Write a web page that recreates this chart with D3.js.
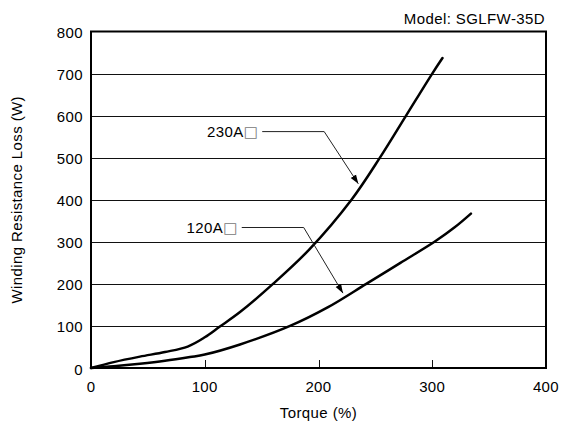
<!DOCTYPE html>
<html>
<head>
<meta charset="utf-8">
<script src="https://cdn.jsdelivr.net/npm/d3@7"></script>
<style>
  html, body { margin: 0; padding: 0; background: #fff; }
  svg { display: block; }
  text { font-family: "Liberation Sans", Arial, Helvetica, sans-serif; fill: #000; letter-spacing: 0.4px; }
</style>
</head>
<body>
<svg id="chart" width="563" height="427"></svg>
<script>
// ---- data ----
const xTicks = [0, 100, 200, 300, 400];
const yTicks = [0, 100, 200, 300, 400, 500, 600, 700, 800];

const torque230 = [0, 20, 43, 65, 85, 100, 113, 131, 160, 192, 229, 254, 277, 300, 309];
const loss230   = [0, 14, 27, 38, 51, 73, 98, 133, 200, 282, 400, 500, 600, 700, 737];

const torque120 = [0, 20, 43, 65, 87, 100, 131, 175, 208, 242, 272, 302, 320, 334];
const loss120   = [0, 4, 10, 17, 26, 32, 56, 100, 144, 200, 250, 300, 335, 367];

const seriesNames = ["230A", "120A"];
// label anchor (torque, loss), elbow torque, arrow target (torque, loss)
const labelAt   = [[147, 562], [129, 334]];
const elbowAt   = [205, 187];
const targetAt  = [[235, 438], [221.5, 178]];

const modelText = "Model: SGLFW-35D";
const xTitle = "Torque (%)";
const yTitle = "Winding Resistance Loss (W)";

// ---- layout ----
const svg = d3.select("#chart");
const x = d3.scaleLinear().domain([0, 400]).range([91, 546]);
const y = d3.scaleLinear().domain([0, 800]).range([368, 31.5]);

// arrow marker
svg.append("defs").append("marker")
  .attr("id", "arrow").attr("viewBox", "0 0 10 10")
  .attr("refX", 10).attr("refY", 5)
  .attr("markerWidth", 9).attr("markerHeight", 9)
  .attr("markerUnits", "userSpaceOnUse")
  .attr("orient", "auto")
  .append("path").attr("d", "M0,1.5 L10,5 L0,8.5 Z").attr("fill", "#000");

// gridlines
svg.append("g").selectAll("line")
  .data(yTicks.filter(d => d > 0 && d < 800))
  .join("line")
  .attr("x1", x(0)).attr("x2", x(400))
  .attr("y1", d => Math.round(y(d)) + 0.5).attr("y2", d => Math.round(y(d)) + 0.5)
  .attr("stroke", "#111").attr("stroke-width", 1);

// x inner ticks
svg.append("g").selectAll("line")
  .data(xTicks.filter(d => d > 0 && d < 400))
  .join("line")
  .attr("x1", d => Math.round(x(d)) + 0.5).attr("x2", d => Math.round(x(d)) + 0.5)
  .attr("y1", y(0)).attr("y2", y(0) - 8)
  .attr("stroke", "#111").attr("stroke-width", 1);

// frame
svg.append("rect")
  .attr("x", x(0)).attr("y", y(800))
  .attr("width", x(400) - x(0)).attr("height", y(0) - y(800))
  .attr("fill", "none").attr("stroke", "#000").attr("stroke-width", 2);

// axis tick labels
svg.append("g").selectAll("text")
  .data(xTicks).join("text")
  .attr("x", d => x(d)).attr("y", 392)
  .attr("text-anchor", "middle").attr("font-size", 15)
  .text(d => d);

svg.append("g").selectAll("text")
  .data(yTicks).join("text")
  .attr("x", 83).attr("y", d => y(d) + 6.5)
  .attr("text-anchor", "end").attr("font-size", 15)
  .text(d => d);

// titles
svg.append("text").attr("x", 545).attr("y", 24)
  .attr("text-anchor", "end").attr("font-size", 15).text(modelText);
svg.append("text").attr("x", (x(0) + x(400)) / 2).attr("y", 418)
  .attr("text-anchor", "middle").attr("font-size", 15).text(xTitle);
svg.append("text")
  .attr("transform", `translate(22,${(y(0) + y(800)) / 2}) rotate(-90)`)
  .attr("text-anchor", "middle").attr("font-size", 15).text(yTitle);

// curves
const line = d3.line().x(d => x(d[0])).y(d => y(d[1])).curve(d3.curveCatmullRom.alpha(0.5));
const curves = [d3.zip(torque230, loss230), d3.zip(torque120, loss120)];
svg.append("g").selectAll("path")
  .data(curves).join("path")
  .attr("d", line)
  .attr("fill", "none").attr("stroke", "#000").attr("stroke-width", 2.5)
  .attr("stroke-linejoin", "round").attr("stroke-linecap", "round");

// annotations
seriesNames.forEach((name, i) => {
  const lx = x(labelAt[i][0]), ly = y(labelAt[i][1]);
  const t = svg.append("text")
    .attr("x", lx).attr("y", ly + 5.5)
    .attr("text-anchor", "end").attr("font-size", 15);
  t.append("tspan").text(name);
  t.append("tspan").attr("font-family", "DejaVu Sans").attr("fill", "#777").text("□");
  svg.append("path")
    .attr("d", `M${lx + 4},${ly} L${x(elbowAt[i])},${ly} L${x(targetAt[i][0])},${y(targetAt[i][1])}`)
    .attr("fill", "none").attr("stroke", "#222").attr("stroke-width", 1)
    .attr("marker-end", "url(#arrow)");
});
</script>
</body>
</html>
